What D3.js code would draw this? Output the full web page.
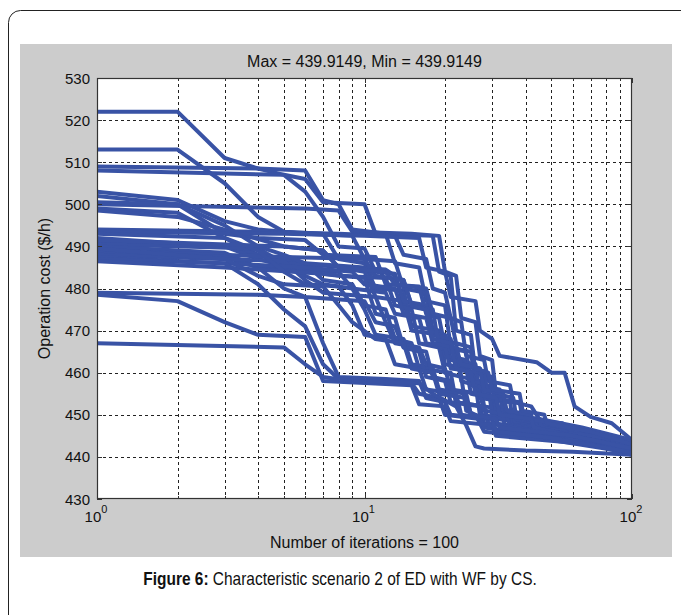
<!DOCTYPE html>
<html><head><meta charset="utf-8">
<script src="https://cdn.jsdelivr.net/npm/d3@7"></script>
<style>html,body{margin:0;padding:0;background:#fff;}svg{display:block;font-family:"Liberation Sans",Arial,sans-serif;}</style>
</head><body>
<script>
// ---- data ----
const titleText = "Max = 439.9149, Min = 439.9149";
const xLabel = "Number of iterations = 100";
const yLabel = "Operation cost ($/h)";
const captionBold = "Figure 6:";
const captionText = " Characteristic scenario 2 of ED with WF by CS.";
const yTicks = [430, 440, 450, 460, 470, 480, 490, 500, 510, 520, 530];
const xMajorTicks = [1, 10, 100];
const xTickExponents = ["0", "1", "2"];
const xMinorTicks = [2, 3, 4, 5, 6, 7, 8, 9, 20, 30, 40, 50, 60, 70, 80, 90];

// each run: [iteration, best cost] breakpoints
const run01 = [[1,522],[2,522],[3,511],[4,508.5],[5,507],[6,503],[7,497],[8,490],[10,489.5],[11,484],[13,483.5],[14,476],[17,475],[18,468],[22,467],[23,459],[27,458],[28,452],[35,451],[36,447],[55,446],[60,444],[100,442]];
const run02 = [[1,513],[2,513],[3,505],[4,497],[5,493.5],[7,493],[8,487],[10,486],[11,480],[14,479.5],[15,471],[19,470],[20,462],[24,461],[25,455],[30,454],[31,449],[45,448],[50,445],[100,442.5]];
const run03 = [[1,509],[4,508.5],[6,508],[7,501],[8,500],[9,494],[12,493],[13,486],[16,485],[17,477],[20,476],[21,466],[25,465],[26,457],[32,456],[33,449],[45,448],[50,446],[100,443]];
const run04 = [[1,508],[5,507],[6,506],[7,500.5],[10,500],[11,493],[18,492.5],[19,484],[21,483],[22,470],[25,469],[26,460],[30,459],[31,451],[40,450],[42,447],[70,445.5],[100,443.5]];
const run05 = [[1,503],[2,501],[3,496],[4,494],[6,493],[9,492.5],[10,487],[13,486.5],[14,480],[17,479],[18,470],[20,469],[21,463],[26,462],[27,454],[35,453],[36,448],[60,446],[100,441.5]];
const run06 = [[1,502],[2,500],[3,493],[4,492],[6,491.5],[7,488],[11,487.5],[12,481],[16,480.5],[17,474],[19,473],[20,466],[24,465],[25,458],[29,457],[30,450],[45,449],[50,446],[100,442]];
const run07 = [[1,500],[6,499],[8,498.5],[9,493.5],[15,493],[19,492.5],[20,484],[22,483],[23,473],[26,472],[27,464],[30,463],[31,455],[36,454],[37,449],[55,447],[60,445],[100,443]];
const run08 = [[1,499],[2,498],[3,492],[4,488],[6,486],[7,482],[9,481],[10,476],[12,475],[13,468],[15,467],[16,461],[21,460],[22,453],[28,452],[29,448],[45,447],[60,445],[100,443]];
const run09 = [[1,498.5],[2,497],[3,494],[5,490],[7,489],[8,485],[10,484],[11,478],[14,477],[15,470],[19,469],[20,464],[24,463],[25,457],[30,456],[32,451],[40,450],[45,447],[100,443.5]];
const run10 = [[1,494],[4,493.5],[8,493],[13,492.5],[14,488],[17,487],[18,480],[20,479],[21,473],[23,472],[24,464],[28,463],[29,458],[35,457],[36,453],[42,452],[45,449],[65,447],[100,444]];
const run11 = [[1,493.5],[5,493],[10,492.5],[16,492],[17,485],[20,484],[21,478],[26,477],[27,470],[30,468],[32,464],[44,462.5],[50,460],[56,460],[61,452],[70,449.5],[84,448],[100,444]];
const run12 = [[1,492],[3,490],[4,488],[5,486],[6,483],[7,481],[9,480],[10,475],[11,469],[14,468],[15,462],[18,461],[19,456],[24,455],[25,450],[33,449],[34,446],[70,444],[100,442]];
const run13 = [[1,491],[3,490],[4,487],[6,484],[8,483],[12,482.5],[13,476],[15,475],[16,467],[19,466],[20,460],[23,459],[24,451],[26,450],[28,446],[40,445],[50,444],[100,441]];
const run14 = [[1,490.5],[4,489.5],[5,486],[9,485],[12,484.5],[13,483],[14,477],[17,476],[18,469],[21,468],[22,462],[27,461],[28,455],[33,454],[34,450],[45,449],[46,447],[100,443]];
const run15 = [[1,490],[3,488.5],[4,485],[5,480],[6,478],[10,477],[11,472],[13,471],[14,466],[16,465],[17,459],[20,458],[21,453],[27,452],[28,448],[40,447],[50,445],[100,442.5]];
const run16 = [[1,489],[5,487.5],[10,487],[11,483],[14,482],[15,476],[18,475],[19,466],[22,465],[23,458],[26,457],[27,450],[35,449],[36,446],[60,445],[100,441.5]];
const run17 = [[1,488.5],[3,487.5],[4,485],[8,484],[9,480],[12,479],[13,474],[16,473],[17,467],[20,466],[21,461],[28,460],[29,454],[38,453],[39,449],[55,448],[60,446],[100,443]];
const run18 = [[1,488],[5,486.5],[6,482],[7,479],[11,478],[12,472],[13,467],[16,466],[17,462],[20,461],[21,456],[27,455],[28,451],[34,450],[35,447],[70,445],[100,443.5]];
const run19 = [[1,487.5],[6,485],[9,484],[10,481],[13,480],[14,474],[17,473],[18,467],[22,466],[23,462],[27,461],[28,456],[33,455],[34,451],[42,450],[43,447],[60,445],[100,442]];
const run20 = [[1,487],[3,486],[4,481],[5,475],[6,471],[7,462],[8,458.5],[15,457.5],[16,455],[19,454],[20,450],[27,449],[28,447],[40,445.5],[60,444],[100,441]];
const run21 = [[1,486.5],[3,485],[7,483.5],[10,482.5],[11,474],[13,473],[14,466],[17,465],[18,459],[21,458],[22,453],[28,452],[29,448],[45,446],[70,444],[100,442.5]];
const run22 = [[1,479],[4,478.5],[6,478],[7,467],[8,459],[12,458.5],[16,458],[17,454],[20,453],[21,450],[30,449],[31,446],[60,444],[100,441.5]];
const run23 = [[1,478.5],[2,477],[3,472],[4,469],[6,468.5],[7,458],[15,457],[16,452.5],[20,452],[21,448.5],[30,447.5],[31,445],[70,443],[100,440.5]];
const run24 = [[1,467],[5,466],[6,462],[7,459],[9,458],[16,457.5],[18,455],[22,452],[24,447.5],[26,442.5],[28,442],[40,441.5],[60,441.2],[100,440.5]];
const run25 = [[1,493],[3,492],[4,489],[5,484],[6,481],[8,480.5],[9,476],[10,469],[12,468],[13,462],[16,461],[17,456],[22,455],[23,450],[30,449],[31,446],[50,444.5],[100,441]];
const run26 = [[1,500.5],[2,500],[3,495],[4,490],[5,488],[6,486],[10,485],[11,483],[14,482],[15,476],[17,475],[18,468],[21,467],[22,461],[25,460],[26,455],[31,454],[32,450],[42,449],[43,447],[60,445],[100,442]];
const run27 = [[1,491.5],[5,490],[7,489],[8,485],[12,484],[13,481],[17,480],[18,474],[21,473],[22,467],[25,466],[26,461],[29,460],[30,456],[38,455],[39,451],[47,450],[48,448],[70,446],[100,443]];
const run28 = [[1,489.5],[3,487],[4,483],[5,481],[7,480.5],[8,476],[9,472],[11,468],[14,467],[15,461],[18,460],[19,455],[24,454],[25,450],[31,449],[32,447],[60,445],[100,442]];
const runs = [run01,run02,run03,run04,run05,run06,run07,run08,run09,run10,run11,run12,run13,run14,run15,run16,run17,run18,run19,run20,run21,run22,run23,run24,run25,run26,run27,run28];

// ---- layout ----
const W = 681, H = 615;
const plot = {left: 97, right: 632, top: 78, bottom: 499};
const svg = d3.select("body").append("svg").attr("width", W).attr("height", H);

// outer frame (cropped rounded box)
svg.append("rect").attr("x", 8.5).attr("y", 10.5).attr("width", 720).attr("height", 700)
  .attr("rx", 12).attr("fill", "#fff").attr("stroke", "#222").attr("stroke-width", 1);
// gray figure panel
svg.append("rect").attr("x", 20).attr("y", 44).attr("width", 652).attr("height", 513).attr("fill", "#cccccc");
// white axes area
svg.append("rect").attr("x", plot.left).attr("y", plot.top)
  .attr("width", plot.right - plot.left).attr("height", plot.bottom - plot.top).attr("fill", "#fff");

const x = d3.scaleLog().domain([1, 100]).range([plot.left, plot.right]);
const y = d3.scaleLinear().domain([430, 530]).range([plot.bottom, plot.top]);

// grid
const grid = svg.append("g").attr("stroke", "#222").attr("stroke-width", 1).attr("stroke-dasharray", "3,3");
xMinorTicks.concat([10]).forEach(v => {
  const xx = Math.round(x(v)) + 0.5;
  grid.append("line").attr("x1", xx).attr("x2", xx).attr("y1", plot.top).attr("y2", plot.bottom);
});
yTicks.slice(1, -1).forEach(v => {
  const yy = Math.round(y(v)) + 0.5;
  grid.append("line").attr("x1", plot.left).attr("x2", plot.right).attr("y1", yy).attr("y2", yy);
});

// lines
svg.append("clipPath").attr("id", "clip").append("rect")
  .attr("x", plot.left).attr("y", plot.top).attr("width", plot.right - plot.left).attr("height", plot.bottom - plot.top);
const line = d3.line().x(d => x(d[0])).y(d => y(d[1]));
svg.append("g").attr("clip-path", "url(#clip)").selectAll("path").data(runs).join("path")
  .attr("d", line).attr("fill", "none").attr("stroke", "#3953a5").attr("stroke-width", 4)
  .attr("stroke-linejoin", "round").attr("stroke-linecap", "butt");

// axes box
svg.append("rect").attr("x", plot.left + 0.5).attr("y", plot.top + 0.5)
  .attr("width", plot.right - plot.left - 1).attr("height", plot.bottom - plot.top - 1)
  .attr("fill", "none").attr("stroke", "#333").attr("stroke-width", 1.2);

// ticks (inward)
const ticks = svg.append("g").attr("stroke", "#333").attr("stroke-width", 1);
yTicks.forEach(v => {
  const yy = Math.round(y(v)) + 0.5;
  ticks.append("line").attr("x1", plot.left).attr("x2", plot.left + 5).attr("y1", yy).attr("y2", yy);
  ticks.append("line").attr("x1", plot.right - 5).attr("x2", plot.right).attr("y1", yy).attr("y2", yy);
});
xMajorTicks.forEach(v => {
  const xx = Math.round(x(v)) + 0.5;
  ticks.append("line").attr("x1", xx).attr("x2", xx).attr("y1", plot.bottom).attr("y2", plot.bottom - 5);
  ticks.append("line").attr("x1", xx).attr("x2", xx).attr("y1", plot.top).attr("y2", plot.top + 5);
});
xMinorTicks.forEach(v => {
  const xx = Math.round(x(v)) + 0.5;
  ticks.append("line").attr("x1", xx).attr("x2", xx).attr("y1", plot.bottom).attr("y2", plot.bottom - 3);
  ticks.append("line").attr("x1", xx).attr("x2", xx).attr("y1", plot.top).attr("y2", plot.top + 3);
});

// tick labels
const txt = svg.append("g").attr("fill", "#111");
yTicks.forEach(v => {
  txt.append("text").attr("x", plot.left - 7).attr("y", y(v) + 5.5)
    .attr("text-anchor", "end").attr("font-size", 15).text(v);
});
xMajorTicks.forEach((v, i) => {
  const t = txt.append("text").attr("x", x(v) - 1).attr("y", plot.bottom + 23)
    .attr("text-anchor", "middle").attr("font-size", 15);
  t.append("tspan").text("10");
  t.append("tspan").attr("dy", -9).attr("font-size", 11).text(xTickExponents[i]);
});

// title and axis labels
txt.append("text").attr("x", (plot.left + plot.right) / 2).attr("y", 67)
  .attr("text-anchor", "middle").attr("font-size", 16).text(titleText);
txt.append("text").attr("x", (plot.left + plot.right) / 2).attr("y", 548)
  .attr("text-anchor", "middle").attr("font-size", 16).text(xLabel);
txt.append("text").attr("transform", `translate(50,${(plot.top + plot.bottom) / 2}) rotate(-90)`)
  .attr("text-anchor", "middle").attr("font-size", 16).text(yLabel);

// caption (condensed sans look)
const cap = svg.append("text").attr("transform", "translate(340,585) scale(0.86,1)")
  .attr("text-anchor", "middle").attr("font-size", 18).attr("fill", "#111");
cap.append("tspan").attr("font-weight", "bold").text(captionBold);
cap.append("tspan").text(captionText);
</script>
</body></html>
